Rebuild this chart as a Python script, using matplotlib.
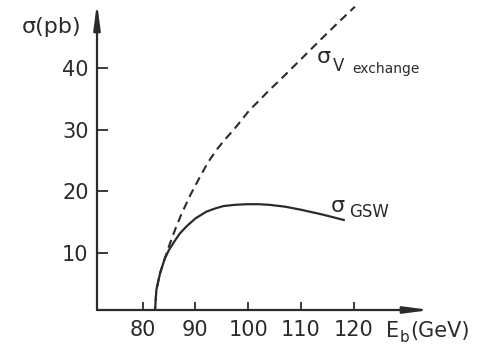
import matplotlib
matplotlib.use("Agg")
import matplotlib.pyplot as plt

# ========================
# DATA
# ========================
x_ticks = [80, 90, 100, 110, 120]
y_ticks = [10, 20, 30, 40]

# sigma_V exchange (dashed)
e_vex = [82.3, 82.6, 83.3, 84.2, 85.2, 86.3, 87.4, 89.1, 90.9, 92.4, 94.0,
         95.6, 97.2, 98.8, 100.3, 102.2, 104.0, 106.0, 110.0, 114.0, 117.0,
         120.2]
s_vex = [0.0, 4.0, 6.7, 9.1, 11.6, 14.1, 16.4, 19.5, 22.4, 24.7, 26.7,
         28.4, 29.9, 31.6, 33.2, 34.8, 36.4, 38.0, 41.4, 44.8, 47.3,
         49.9]

# sigma_GSW (solid)
e_gsw = [82.3, 82.6, 83.3, 84.2, 85.0, 85.8, 87.0, 88.3, 90.0, 92.1, 93.7,
         95.3, 97.5, 99.7, 102.0, 104.0, 107.0, 110.0, 114.2, 118.3]
s_gsw = [0.0, 4.0, 6.7, 9.1, 10.5, 11.6, 13.1, 14.3, 15.6, 16.7, 17.2,
         17.6, 17.8, 17.9, 17.9, 17.8, 17.5, 17.0, 16.2, 15.3]

INK = "#2b2b2b"
W, H = 481, 347

plt.rcParams['font.family'] = ['DejaVu Sans']

fig = plt.figure(figsize=(W / 100, H / 100), dpi=100)
ax = fig.add_axes([97 / W, (H - 310) / H, 333 / W, 307 / H])
ax.set_xlim(71.36, 134.43)
ax.set_ylim(0.76, 50.5)

ax.plot(e_gsw, s_gsw, color=INK, lw=1.6, solid_capstyle='butt',
        solid_joinstyle='round')
dash, = ax.plot(e_vex, s_vex, color=INK, lw=1.5)
dash.set_dashes([4.0, 2.6])

for s in ax.spines.values():
    s.set_visible(False)

# axes with arrow heads
arrow = dict(arrowstyle='-|>,head_length=0.75,head_width=0.1', color=INK,
             lw=1.6, mutation_scale=20, shrinkA=0, shrinkB=0)
ax.annotate('', xy=(1, 0), xytext=(0, 0), xycoords='axes fraction',
            arrowprops=arrow)
ax.annotate('', xy=(0, 1), xytext=(0, 0), xycoords='axes fraction',
            arrowprops=arrow)

ax.set_xticks(x_ticks)
ax.set_yticks(y_ticks)
ax.tick_params(axis='x', direction='in', length=6, width=1.3, color=INK,
               pad=7, labelsize=15, labelcolor=INK)
ax.tick_params(axis='y', direction='in', length=8, width=1.3, color=INK,
               pad=6, labelsize=15, labelcolor=INK)

# labels, placed in figure pixels
def px(x, y):
    return x / W, 1 - y / H

fig.text(*px(22, 33), 'σ(pb)', fontsize=16, color=INK)

fig.text(*px(317, 63), 'σ', fontsize=16, color=INK)
fig.text(*px(333, 71), 'V', fontsize=12, color=INK)
fig.text(*px(352, 73), 'exchange', fontsize=10, color=INK)

fig.text(*px(331, 212), 'σ', fontsize=16, color=INK)
fig.text(*px(349, 217), 'GSW', fontsize=12, color=INK)

fig.text(*px(386, 337), 'E', fontsize=15, color=INK)
fig.text(*px(400, 342), 'b', fontsize=11, color=INK)
fig.text(*px(410, 337), '(GeV)', fontsize=15, color=INK)

fig.savefig('out.png', dpi=100)
